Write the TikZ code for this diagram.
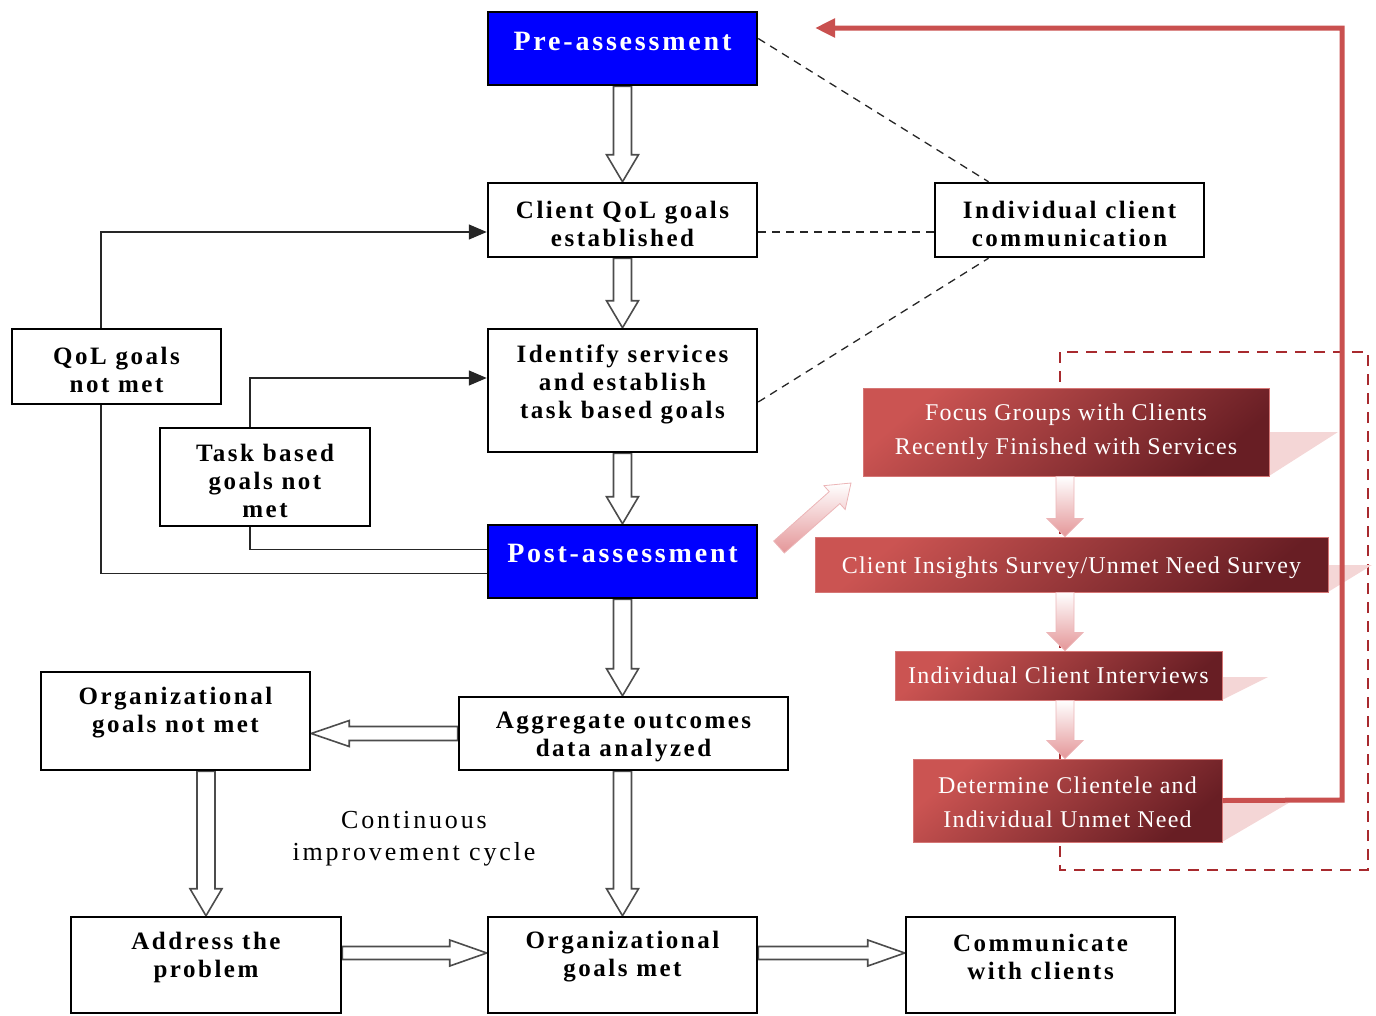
\documentclass[tikz,border=0pt]{standalone}
\usepackage{fontspec}
\setmainfont{Liberation Serif}
\newfontfamily\boxfont[LetterSpace=10]{Liberation Serif}
\newfontfamily\cyclefont[LetterSpace=11]{Liberation Serif}
\newfontfamily\redfont[LetterSpace=5]{Liberation Serif}
\usetikzlibrary{arrows.meta,calc}

\definecolor{stepblue}{RGB}{0,0,255}
\definecolor{loopred}{RGB}{201,80,79}
\definecolor{redlight}{RGB}{203,84,82}
\definecolor{reddark}{RGB}{104,30,36}
\definecolor{pinkshade}{RGB}{244,214,214}
\definecolor{pinkarrow}{RGB}{228,150,152}
\definecolor{dashred}{RGB}{168,42,46}

\pgfdeclarelayer{back}
\pgfsetlayers{back,main}

\tikzset{
  box/.style={draw=black, line width=2.5pt, fill=white, inner sep=0pt},
  bluebox/.style={box, fill=stepblue},
  boxtxt/.style={inner sep=0pt, align=center, font=\boxfont\bfseries\fontsize{25}{28}\selectfont},
  bluetxt/.style={inner sep=0pt, align=center, text=white,
    font=\boxfont\bfseries\fontsize{28}{30}\selectfont},
  redbox/.style={draw=redlight!80!white, line width=0.8pt, top color=redlight, bottom color=reddark,
    shading angle=40, inner sep=0pt},
  redtxt/.style={text=white, inner sep=0pt, align=center, font=\redfont\fontsize{24}{34}\selectfont},
  fb/.style={draw=black!85, line width=1.5pt},
  fbarrow/.style={fb, -{Triangle[length=18pt,width=15pt]}},
  linkdash/.style={draw=black!85, line width=1.3pt, dash pattern=on 8pt off 6pt},
  % block arrow drawn as an outlined polygon between two points
  arrow shaft/.store in=\arShaft, arrow head/.store in=\arHead, arrow len/.store in=\arLen,
  arrow shaft=9pt, arrow head=16pt, arrow len=27pt,
  blockarrow/.style={to path={let \p1=(\tikztostart), \p2=(\tikztotarget),
      \p3=($(\p2)!\arLen!(\p1)$) in
      ($(\p1)!\arShaft!90:(\p2)$) -- ($(\p3)!\arShaft!90:(\p2)$) --
      ($(\p3)!\arHead!90:(\p2)$) -- (\p2) -- ($(\p3)!\arHead!-90:(\p2)$) --
      ($(\p3)!\arShaft!-90:(\p2)$) -- ($(\p1)!\arShaft!-90:(\p2)$) -- cycle}},
  hollow/.style={blockarrow, draw=black!70, line width=1.6pt, fill=white, line join=miter},
  hollowflat/.style={hollow, arrow shaft=6.5pt, arrow head=13pt, arrow len=37pt},
  pinkblock/.style={blockarrow, arrow shaft=9pt, arrow head=18pt, arrow len=18pt,
    draw=pinkarrow!70!white, line width=0.8pt, top color=white, bottom color=pinkarrow},
}

\begin{document}
\begin{tikzpicture}[x=1pt,y=-1pt]
\useasboundingbox (0,0) rectangle (1376,1015);

% ---------- main flow boxes ----------
\node[bluebox, minimum width=269pt, minimum height=73pt] (pre) at (622.5,48.5) {};
\node[bluetxt] at ([yshift=7pt]pre.center) {Pre-assessment};
\node[box, minimum width=269pt, minimum height=74pt] (client) at (622.5,220) {};
\node[boxtxt] at ([yshift=-4pt]client.center) {Client QoL goals\\established};
\node[box, minimum width=269pt, minimum height=123pt] (identify) at (622.5,390.5) {};
\node[boxtxt] at ([yshift=6pt]identify.center) {Identify services\\and establish\\task based goals};
\node[bluebox, minimum width=269pt, minimum height=73pt] (post) at (622.5,561.5) {};
\node[bluetxt] at ([yshift=8pt]post.center) {Post-assessment};
\node[box, minimum width=329pt, minimum height=73pt] (aggregate) at (623.5,733.5) {};
\node[boxtxt] at ([yshift=-3pt]aggregate.center) {Aggregate outcomes\\data analyzed};
\node[box, minimum width=269pt, minimum height=96pt] (orgmet) at (622.5,965) {};
\node[boxtxt] at ([yshift=8pt]orgmet.center) {Organizational\\goals met};
\node[box, minimum width=269pt, minimum height=96pt] (communicate) at (1040.5,965) {};
\node[boxtxt] at ([yshift=8pt]communicate.center) {Communicate\\with clients};
\node[box, minimum width=270pt, minimum height=96pt] (address) at (206,965) {};
\node[boxtxt] at ([yshift=8pt]address.center) {Address the\\problem};
\node[box, minimum width=269pt, minimum height=98pt] (orgnot) at (175.5,721) {};
\node[boxtxt] at ([yshift=8.5pt]orgnot.center) {Organizational\\goals not met};
\node[box, minimum width=209pt, minimum height=75pt] (qol) at (116.5,366.5) {};
\node[boxtxt] at ([yshift=-3.5pt]qol.center) {QoL goals\\not met};
\node[box, minimum width=210pt, minimum height=98pt] (task) at (265,477) {};
\node[boxtxt] at ([yshift=-4pt]task.center) {Task based\\goals not\\met};
\node[box, minimum width=269pt, minimum height=74pt] (indiv) at (1069.5,220) {};
\node[boxtxt] at ([yshift=-4pt]indiv.center) {Individual client\\communication};

% ---------- block arrows of the main flow ----------
\begin{pgfonlayer}{back}
\path[hollow] (pre.south) to (client.north);
\path[hollow] (client.south) to (identify.north);
\path[hollow] (identify.south) to (post.north);
\path[hollow] (post.south) to (post.south |- aggregate.north);
\path[hollow] (orgmet.north |- aggregate.south) to (orgmet.north);
\path[hollow] (address.north |- orgnot.south) to (address.north);
\path[hollow, arrow shaft=7pt, arrow head=13pt, arrow len=38pt] (aggregate.west) to (orgnot.east |- aggregate.west);
\path[hollowflat] ([yshift=12pt]address.east) to ([yshift=12pt]orgmet.west);
\path[hollowflat] ([yshift=12pt]orgmet.east) to ([yshift=12pt]communicate.west);
\end{pgfonlayer}

% ---------- feedback loops ----------
\draw[fbarrow] ([xshift=-15.5pt]qol.north) |- ([yshift=-12pt]client.west);
\draw[fb] ([yshift=-12pt]post.west) -| ([xshift=-15.5pt]qol.south);
\draw[fbarrow] ([xshift=-15pt]task.north) |- ([yshift=12.5pt]identify.west);
\draw[fb] ([yshift=12pt]post.west) -| ([xshift=-15pt]task.south);

% ---------- links to individual client communication ----------
\draw[linkdash] ([yshift=10pt]pre.east) -- ([xshift=-81pt]indiv.north);
\draw[linkdash] ([yshift=-12pt]client.east) -- ([yshift=-12pt]indiv.west);
\draw[linkdash] ([yshift=-11.5pt]identify.east) -- ([xshift=-81pt]indiv.south);

% ---------- label of the cycle ----------
\node[align=center, inner sep=0pt, font=\cyclefont\fontsize{26}{32}\selectfont] (cycle) at (414,839)
  {Continuous\\improvement cycle};

% ---------- client feedback panel ----------
\draw[dashred, line width=1.8pt, dash pattern=on 11pt off 8pt] (1060,352) rectangle (1368,870);

\coordinate (focusC) at (1066,432);
\coordinate (insightsC) at (1071.5,564.5);
\coordinate (interviewsC) at (1058.5,675.5);
\coordinate (determineC) at (1067.5,800.5);

% perspective shadows behind the panel boxes
\fill[pinkshade] (1269,432) -- (1338,432) -- (1269,476) -- cycle;
\fill[pinkshade] (1328,565) -- (1372,565) -- (1328,592) -- cycle;
\fill[pinkshade] (1222,677) -- (1268,677) -- (1222,700) -- cycle;
\fill[pinkshade] (1222,801) -- (1292,801) -- (1222,842) -- cycle;

\node[redbox, minimum width=406pt, minimum height=88pt] (focus) at (focusC) {};
\node[redtxt] at (focus.center) {Focus Groups with Clients\\Recently Finished with Services};
\node[redbox, minimum width=513pt, minimum height=55pt] (insights) at (insightsC) {};
\node[redtxt] at ([yshift=-3pt]insights.center) {Client Insights Survey/Unmet Need Survey};
\node[redbox, minimum width=327pt, minimum height=49pt] (interviews) at (interviewsC) {};
\node[redtxt] at (interviews.center) {Individual Client Interviews};
\node[redbox, minimum width=309pt, minimum height=83pt] (determine) at (determineC) {};
\node[redtxt] at ([yshift=-2pt]determine.center) {Determine Clientele and\\Individual Unmet Need};

\coordinate (redAxis) at (1065,0);
\path[pinkblock] (redAxis |- focus.south) to (redAxis |- insights.north);
\path[pinkblock] (redAxis |- insights.south) to (redAxis |- interviews.north);
\path[pinkblock] (redAxis |- interviews.south) to (redAxis |- determine.north);

% entry arrow into the panel
\coordinate (entryFrom) at (779,547);
\coordinate (entryTo) at (851,483);
\path[pinkblock, arrow shaft=8pt, arrow head=16pt, arrow len=22pt] (entryFrom) to (entryTo);

% return line back to the pre-assessment
\coordinate (loopCorner) at (1342,800);
\coordinate (loopEnd) at (815,28);
\draw[loopred, line width=5pt, line join=miter, -{Triangle[length=20pt,width=18pt]}]
  (determine.east) -- (loopCorner) |- (loopEnd);
\end{tikzpicture}
\end{document}
